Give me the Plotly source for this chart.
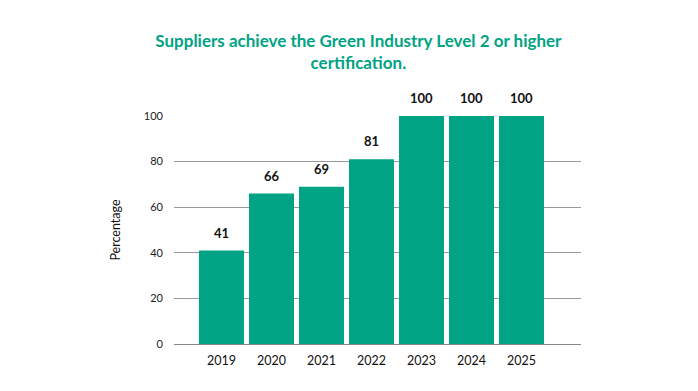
import plotly.graph_objects as go

years = ["2019", "2020", "2021", "2022", "2023", "2024", "2025"]
values = [41, 66, 69, 81, 100, 100, 100]
title_text = "Suppliers achieve the Green Industry Level 2 or higher<br>certification."

green = "#00a383"

fig = go.Figure(go.Bar(
    x=years, y=values,
    marker=dict(color=green, line=dict(width=0)),
    cliponaxis=False,
))

for i, v in enumerate(values):
    fig.add_annotation(x=i, y=v, xref="x", yref="y", text=str(v), showarrow=False,
                       yanchor="bottom", yshift=8,
                       font=dict(family="Lato", size=13, color="#111111", weight="bold"))

fig.update_layout(
    width=698, height=391,
    paper_bgcolor="white", plot_bgcolor="white",
    margin=dict(l=166, r=125, t=108, b=55),
    bargap=0.1,
    showlegend=False,
    title=dict(text=title_text, x=0.502, xanchor="center", y=0.90, yanchor="top",
               font=dict(family="Lato", size=17, color="#00a383", weight="bold")),
    xaxis=dict(type="category", range=[-0.95, 7.19], showgrid=False,
               showline=True, linecolor="#888888", linewidth=1,
               ticks="", ticklabelstandoff=5,
               tickfont=dict(family="Lato", size=12.5, color="#111111")),
    yaxis=dict(range=[0, 100], tickvals=[0, 20, 40, 60, 80, 100],
               showgrid=True, gridcolor="#999999", gridwidth=1, zeroline=False,
               ticks="", ticklabelstandoff=10,
               tickfont=dict(family="Lato", size=11, color="#222222"),
               title=dict(text="Percentage", font=dict(family="Lato", size=12.5, color="#111111"), standoff=20)),
)

fig.write_html("out.html")
